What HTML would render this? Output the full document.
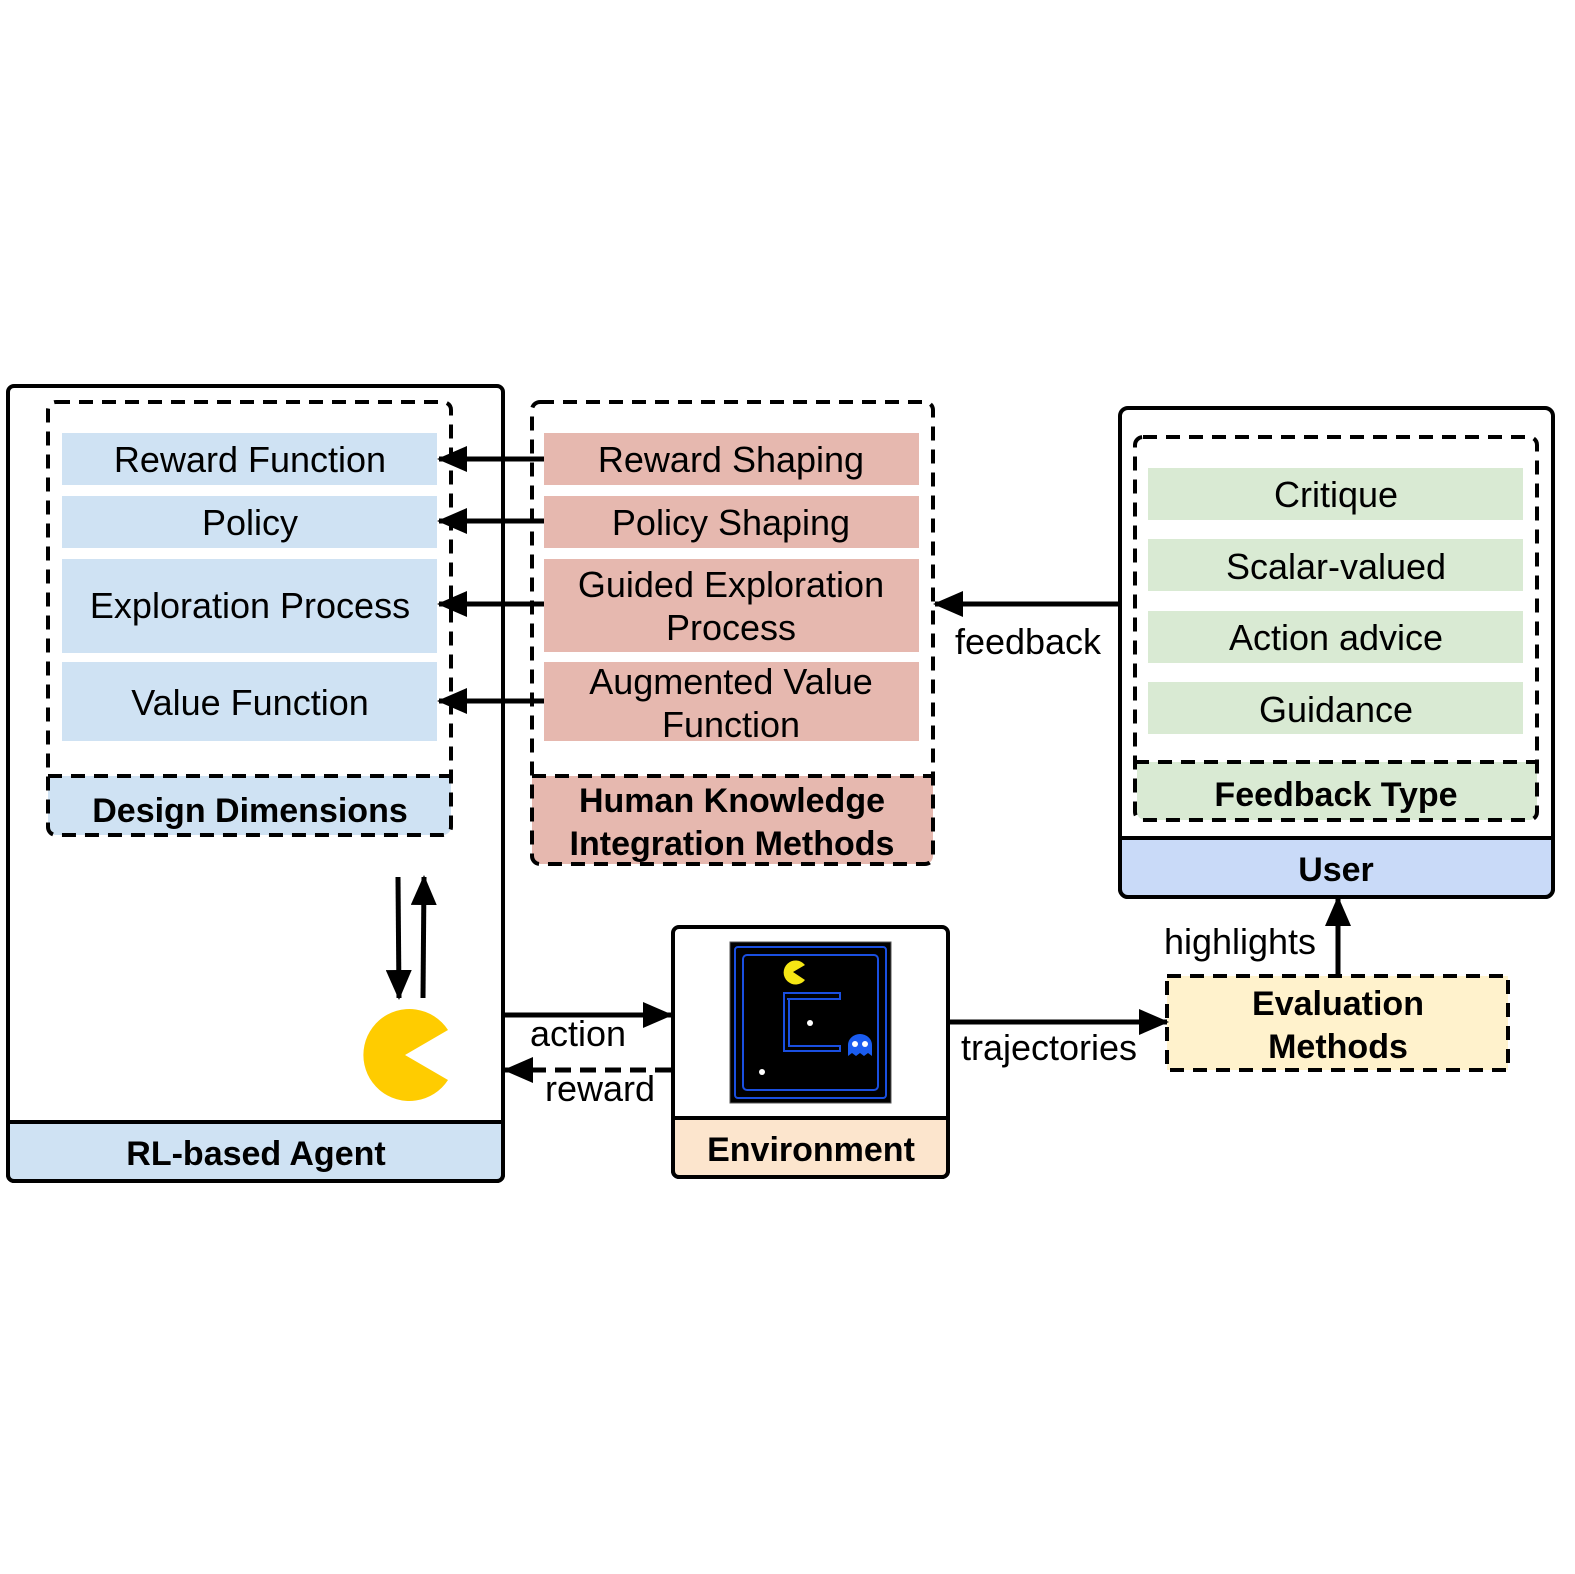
<!DOCTYPE html>
<html><head><style>html,body{margin:0;padding:0;background:#fff;overflow:hidden;width:1575px;height:1574px}svg{display:block}</style></head>
<body>
<svg width="1575" height="1574" viewBox="0 0 1575 1574" xmlns="http://www.w3.org/2000/svg" font-family="Liberation Sans, Arial, sans-serif">
<defs>
<marker id="ah" markerWidth="30" markerHeight="26" refX="28" refY="13" orient="auto" markerUnits="userSpaceOnUse" viewBox="0 0 30 26"><path d="M0,0 L30,13 L0,26 z" fill="#000"/></marker>
</defs>
<g stroke="#000" stroke-width="4" fill="none">
<rect x="8" y="386" width="495" height="795" rx="6" fill="#fff"/>
<path d="M8,1122 H503 V1175 a6,6 0 0 1 -6,6 H14 a6,6 0 0 1 -6,-6 Z" fill="#cfe2f3"/>
<path d="M48,776 H451 V827 a8,8 0 0 1 -8,8 H56 a8,8 0 0 1 -8,-8 Z" fill="#cfe2f3" stroke="none"/>
<rect x="48" y="402" width="403" height="433" rx="8" stroke-dasharray="14,9"/>
<line x1="48" y1="776" x2="451" y2="776" stroke-dasharray="14,9"/>
<path d="M532,776 H933 V856 a8,8 0 0 1 -8,8 H540 a8,8 0 0 1 -8,-8 Z" fill="#e6b8af" stroke="none"/>
<rect x="532" y="402" width="401" height="462" rx="8" stroke-dasharray="14,9"/>
<line x1="532" y1="776" x2="933" y2="776" stroke-dasharray="14,9"/>
<rect x="1120" y="408" width="433" height="489" rx="8" fill="#fff"/>
<path d="M1120,838 H1553 V889 a8,8 0 0 1 -8,8 H1128 a8,8 0 0 1 -8,-8 Z" fill="#c9daf8"/>
<path d="M1137,762 H1537 V812 a8,8 0 0 1 -8,8 H1145 a8,8 0 0 1 -8,-8 Z" fill="#d9ead3" stroke="none"/>
<rect x="1135" y="437" width="402" height="383" rx="8" stroke-dasharray="14,9"/>
<line x1="1135" y1="762" x2="1537" y2="762" stroke-dasharray="14,9"/>
<rect x="673" y="927" width="275" height="250" rx="6" fill="#fff"/>
<path d="M673,1118 H948 V1171 a6,6 0 0 1 -6,6 H679 a6,6 0 0 1 -6,-6 Z" fill="#fce5cd"/>
<rect x="1167" y="976" width="341" height="94" fill="#fff2cc" stroke-dasharray="14,9"/>
</g>
<g fill="#cfe2f3">
<rect x="62" y="433" width="375" height="52"/><rect x="62" y="496" width="375" height="52"/>
<rect x="62" y="559" width="375" height="94"/><rect x="62" y="662" width="375" height="79"/>
</g>
<g fill="#e6b8af">
<rect x="544" y="433" width="375" height="52"/><rect x="544" y="496" width="375" height="52"/>
<rect x="544" y="559" width="375" height="93"/><rect x="544" y="662" width="375" height="79"/>
</g>
<g fill="#d9ead3">
<rect x="1148" y="468" width="375" height="52"/><rect x="1148" y="539" width="375" height="52"/>
<rect x="1148" y="611" width="375" height="52"/><rect x="1148" y="682" width="375" height="52"/>
</g>
<rect x="730" y="942" width="161" height="161" fill="#000" stroke="#555" stroke-width="1"/>
<g fill="none" stroke="#1a4fe0" stroke-width="2">
<rect x="735" y="947" width="151" height="151" rx="3"/>
<rect x="743" y="955" width="135" height="135" rx="4"/>
<path d="M787,999 H840 V993 H784 V1051 H840 V1046 H789 V999"/>
</g>
<path d="M793,972 L805,965 A12,12 0 1 0 805,980 Z" fill="#f5e614"/>
<circle cx="810" cy="1023" r="3" fill="#fff"/><circle cx="762" cy="1072" r="3" fill="#fff"/>
<path d="M848,1056 V1045 a12,11 0 0 1 24,0 V1056 l-4,-3 -4,3 -4,-3 -4,3 -4,-3 z" fill="#1a5cf0"/>
<circle cx="855" cy="1044" r="3" fill="#fff"/><circle cx="865" cy="1044" r="3" fill="#fff"/>
<path d="M405,1055 L448,1030 A46,46 0 1 0 448,1080 Z" fill="#ffcc00"/>
<g stroke="#000" stroke-width="5" fill="none" marker-end="url(#ah)">
<line x1="544" y1="459" x2="439" y2="459"/>
<line x1="544" y1="521" x2="439" y2="521"/>
<line x1="544" y1="604" x2="439" y2="604"/>
<line x1="544" y1="701" x2="439" y2="701"/>
<line x1="1120" y1="604" x2="935" y2="604"/>
<line x1="1338" y1="976" x2="1338" y2="898"/>
<line x1="948" y1="1022" x2="1167" y2="1022"/>
<line x1="503" y1="1015" x2="671" y2="1015"/>
<line x1="671" y1="1070" x2="505" y2="1070" stroke-dasharray="16,9"/>
<line x1="398" y1="877" x2="399" y2="998"/>
<line x1="423" y1="998" x2="424" y2="877"/>
</g>
<g font-size="36" text-anchor="middle" fill="#000">
<text x="250" y="472">Reward Function</text>
<text x="250" y="535">Policy</text>
<text x="250" y="618">Exploration Process</text>
<text x="250" y="715">Value Function</text>
<text x="731" y="472">Reward Shaping</text>
<text x="731" y="535">Policy Shaping</text>
<text x="731" y="597">Guided Exploration</text>
<text x="731" y="640">Process</text>
<text x="731" y="694">Augmented Value</text>
<text x="731" y="737">Function</text>
<text x="1336" y="507">Critique</text>
<text x="1336" y="579">Scalar-valued</text>
<text x="1336" y="650">Action advice</text>
<text x="1336" y="722">Guidance</text>
<text x="1028" y="654">feedback</text>
<text x="1240" y="954">highlights</text>
<text x="1049" y="1060">trajectories</text>
<text x="578" y="1046">action</text>
<text x="600" y="1101">reward</text>
</g>
<g font-size="34" font-weight="bold" text-anchor="middle" fill="#000">
<text x="250" y="822">Design Dimensions</text>
<text x="732" y="812">Human Knowledge</text>
<text x="732" y="855">Integration Methods</text>
<text x="1336" y="806">Feedback Type</text>
<text x="1336" y="881">User</text>
<text x="811" y="1161">Environment</text>
<text x="256" y="1165">RL-based Agent</text>
<text x="1338" y="1015">Evaluation</text>
<text x="1338" y="1058">Methods</text>
</g>
</svg>
</body></html>
